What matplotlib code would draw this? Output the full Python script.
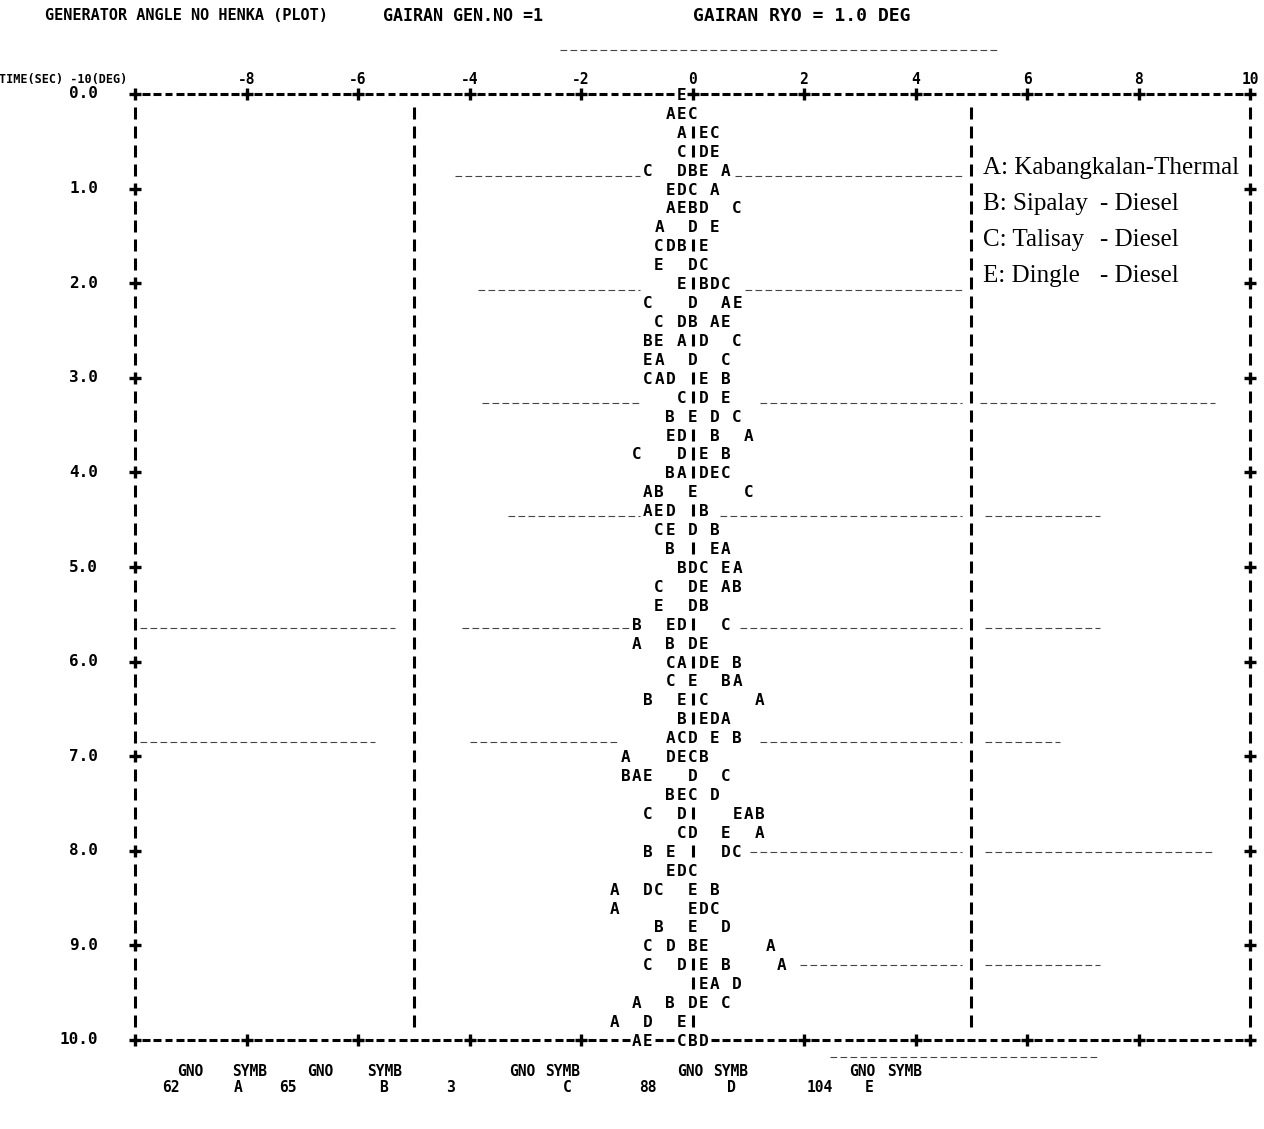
import matplotlib
matplotlib.use("Agg")
import matplotlib.pyplot as plt
from matplotlib.transforms import offset_copy, blended_transform_factory

W, H, DPI = 1264, 1129, 100
MONO = "DejaVu Sans Mono"

# printer plot: one line every 0.2 sec, one column = 0.2 deg
time_s = [0.0, 0.2, 0.4, 0.6, 0.8, 1.0, 1.2, 1.4, 1.6, 1.8, 2.0,
          2.2, 2.4, 2.6, 2.8, 3.0, 3.2, 3.4, 3.6, 3.8, 4.0,
          4.2, 4.4, 4.6, 4.8, 5.0, 5.2, 5.4, 5.6, 5.8, 6.0,
          6.2, 6.4, 6.6, 6.8, 7.0, 7.2, 7.4, 7.6, 7.8, 8.0,
          8.2, 8.4, 8.6, 8.8, 9.0, 9.2, 9.4, 9.6, 9.8, 10.0]

# generator angles (deg) (hidden symbols put under the one printed over them)
ang_A = [-0.2, -0.4, -0.2, 0.2, 0.6, 0.4, -0.4, -0.6, -0.2, 0.0, 0.4,
         0.6, 0.4, -0.2, -0.6, -0.6, 0.2, 0.4, 1.0, 0.6, -0.2,
         -0.8, -0.8, 0.0, 0.6, 0.8, 0.6, 0.2, -0.4, -1.0, -0.2,
         0.8, 1.2, 0.6, -0.4, -1.2, -1.0, 0.0, 1.0, 1.2, 0.6,
         -0.4, -1.4, -1.4, 0.0, 1.4, 1.6, 0.4, -1.0, -1.4, -1.0]
ang_B = [-0.2, 0.0, 0.2, 0.2, 0.0, 0.0, 0.0, 0.0, -0.2, 0.0, 0.2,
         0.0, 0.0, -0.8, 0.0, 0.6, 0.2, -0.4, 0.4, 0.6, -0.4,
         -0.6, 0.2, 0.4, -0.4, -0.2, 0.8, 0.2, -1.0, -0.4, 0.8,
         0.6, -0.8, -0.2, 0.8, 0.2, -1.2, -0.4, 1.2, 0.0, -0.8,
         -0.2, 0.4, 0.0, -0.6, 0.0, 0.6, 0.2, -0.4, -0.2, 0.0]
ang_C = [-0.2, 0.0, 0.4, -0.2, -0.8, 0.0, 0.8, 0.0, -0.6, 0.2, 0.6,
         -0.8, -0.6, 0.8, 0.6, -0.8, -0.2, 0.8, -0.2, -1.0, 0.6,
         1.0, -0.4, -0.6, 0.4, 0.2, -0.6, 0.0, 0.6, 0.2, -0.4,
         -0.4, 0.2, 0.2, -0.2, 0.0, 0.6, 0.0, -0.8, -0.2, 0.8,
         0.0, -0.6, 0.4, 0.0, -0.8, -0.8, 0.2, 0.6, -0.2, -0.2]
ang_D = [-0.2, -0.2, 0.2, 0.2, -0.2, -0.2, 0.2, 0.0, -0.4, 0.0, 0.4,
         0.0, -0.2, 0.2, 0.0, -0.4, 0.2, 0.4, -0.2, -0.2, 0.2,
         0.0, -0.4, 0.0, 0.4, 0.0, 0.0, 0.0, -0.2, 0.0, 0.2,
         0.0, -0.2, 0.4, 0.0, -0.4, 0.0, 0.4, -0.2, 0.0, 0.6,
         -0.2, -0.8, 0.2, 0.6, -0.4, -0.2, 0.8, 0.0, -0.8, 0.2]
ang_E = [-0.2, -0.2, 0.2, 0.4, 0.2, -0.4, -0.2, 0.4, 0.2, -0.6, -0.2,
         0.8, 0.6, -0.6, -0.8, 0.2, 0.6, 0.0, -0.4, 0.2, 0.4,
         0.0, -0.6, -0.4, 0.4, 0.6, 0.2, -0.6, -0.4, 0.2, 0.4,
         0.0, -0.2, 0.2, 0.4, -0.2, -0.8, -0.2, 0.8, 0.6, -0.4,
         -0.4, 0.0, 0.0, 0.0, 0.2, 0.2, 0.2, 0.2, -0.2, -0.8]

symbols = ["A", "B", "C", "D", "E"]
gen_no = [62, 65, 3, 88, 104]
x_ticks = [-8, -6, -4, -2, 0, 2, 4, 6, 8, 10]
legend_names = ["A: Kabangkalan-Thermal", "B: Sipalay", "C: Talisay", "E: Dingle"]
legend_types = ["", "- Diesel", "- Diesel", "- Diesel"]

STEP = 0.2  # deg per printer column


def fx(px):
    return px / W


def fy(py):
    return 1 - py / H


fig = plt.figure(figsize=(W / DPI, H / DPI), dpi=DPI)
ax_l, ax_r, ax_t, ax_b = 135, 1250, 94, 1040
ax = fig.add_axes([fx(ax_l), fy(ax_b), fx(ax_r) - fx(ax_l), fy(ax_t) - fy(ax_b)])
ax.set_xlim(-10, 10)
ax.set_ylim(10, 0)
ax.axis("off")

# which symbol ends up printed in each cell (later symbols overprint earlier ones)
cells = {}
for sym, ang in zip(symbols, [ang_A, ang_B, ang_C, ang_D, ang_E]):
    for row, a in enumerate(ang):
        cells[(row, int(round(a / STEP)))] = sym

letter_tr = offset_copy(ax.transData, fig=fig, y=-4.3, units="points")
for (row, col), sym in cells.items():
    ax.text(col * STEP, time_s[row], sym, transform=letter_tr, ha="center",
            va="baseline", fontsize=11.5, fontweight="bold", family=MONO)

nrow = len(time_s)
half = 0.064
lw = 2.2
# zero line and the vertical rules at +-5 and +-10 deg
for row in range(1, nrow - 1):
    t = time_s[row]
    label_row = row % 5 == 0
    xs = []
    if (row, 0) not in cells:
        xs.append(0)
    xs += [-5, 5]
    if label_row:
        ax.plot([-10, 10], [t, t], ls="none", marker="+", ms=9, mew=2.4,
                color="black", clip_on=False)
    else:
        xs += [-10, 10]
    ax.vlines(xs, t - half, t + half, color="black", lw=lw, clip_on=False)

# top and bottom border lines
for row in (0, nrow - 1):
    t = time_s[row]
    dash_x, plus_x = [], []
    for col in range(-50, 51):
        if (row, col) in cells:
            continue
        if col % 10 == 0:
            plus_x.append(col * STEP)
        else:
            dash_x.append(col * STEP)
    ax.hlines([t] * len(dash_x), [x - 0.07 for x in dash_x], [x + 0.07 for x in dash_x],
              color="black", lw=lw, clip_on=False)
    ax.plot(plus_x, [t] * len(plus_x), ls="none", marker="+", ms=9, mew=2.4,
            color="black", clip_on=False)

# row labels (every 1 sec)
lab_tr = blended_transform_factory(fig.transFigure, ax.transData)
for row in range(0, nrow, 5):
    ax.text(fx(98), time_s[row], f"{time_s[row]:.1f}", transform=lab_tr, ha="right",
            va="center", fontsize=11.5, fontweight="bold", family=MONO)

# column labels
tick_tr = blended_transform_factory(ax.transData, fig.transFigure)
for v in x_ticks:
    ax.text(v, fy(80), f"{v}", transform=tick_tr, ha="center", va="center",
            fontsize=10.5, fontweight="bold", family=MONO)
fig.text(fx(127), fy(80), "TIME(SEC) -10(DEG)", ha="right", va="center",
         fontsize=8.5, fontweight="bold", family=MONO)

# title line
fig.text(fx(45), fy(16), "GENERATOR ANGLE NO HENKA (PLOT)", ha="left", va="center",
         fontsize=11, fontweight="bold", family=MONO)
fig.text(fx(383), fy(16), "GAIRAN GEN.NO =1", ha="left", va="center",
         fontsize=12, fontweight="bold", family=MONO)
fig.text(fx(693), fy(16), "GAIRAN RYO = 1.0 DEG", ha="left", va="center",
         fontsize=13, fontweight="bold", family=MONO)

# generator number / symbol table
gno_x = [190, 320, 522, 690, 862]
symb_x = [250, 385, 563, 731, 905]
num_x = [171, 288, 450, 648, 820]
sym_x = [238, 384, 567, 731, 869]
for i in range(len(symbols)):
    fig.text(fx(gno_x[i]), fy(1072), "GNO", ha="center", va="center",
             fontsize=10.5, fontweight="bold", family=MONO)
    fig.text(fx(symb_x[i]), fy(1072), "SYMB", ha="center", va="center",
             fontsize=10.5, fontweight="bold", family=MONO)
    fig.text(fx(num_x[i]), fy(1087), str(gen_no[i]), ha="center", va="center",
             fontsize=10.5, fontweight="bold", family=MONO)
    fig.text(fx(sym_x[i]), fy(1087), symbols[i], ha="center", va="center",
             fontsize=10.5, fontweight="bold", family=MONO)

# typed legend pasted on the sheet
for i, (name, kind) in enumerate(zip(legend_names, legend_types)):
    y = 168 + i * 36
    fig.text(fx(983), fy(y), name, ha="left", va="center", fontsize=18,
             family="Liberation Serif")
    if kind:
        fig.text(fx(1100), fy(y), kind, ha="left", va="center", fontsize=18,
                 family="Liberation Serif")

# faint ruled lines from the scanned sheet
ruled = [(176, [(455, 640), (735, 962)]),
         (290, [(478, 640), (745, 965)]),
         (403, [(482, 640), (760, 962), (980, 1215)]),
         (516, [(508, 640), (720, 962), (985, 1100)]),
         (628, [(140, 395), (462, 630), (740, 962), (985, 1100)]),
         (742, [(140, 375), (470, 620), (760, 962), (985, 1060)]),
         (852, [(750, 962), (985, 1215)]),
         (965, [(800, 962), (985, 1100)]),
         (50, [(560, 1000)]),
         (1057, [(830, 1100)])]
for py, segs in ruled:
    for a, b in segs:
        fig.add_artist(plt.Line2D([fx(a), fx(b)], [fy(py), fy(py)], color="#444444",
                                  lw=0.8, ls=(0, (6, 3))))

fig.savefig("out.png", dpi=DPI, facecolor="white")
